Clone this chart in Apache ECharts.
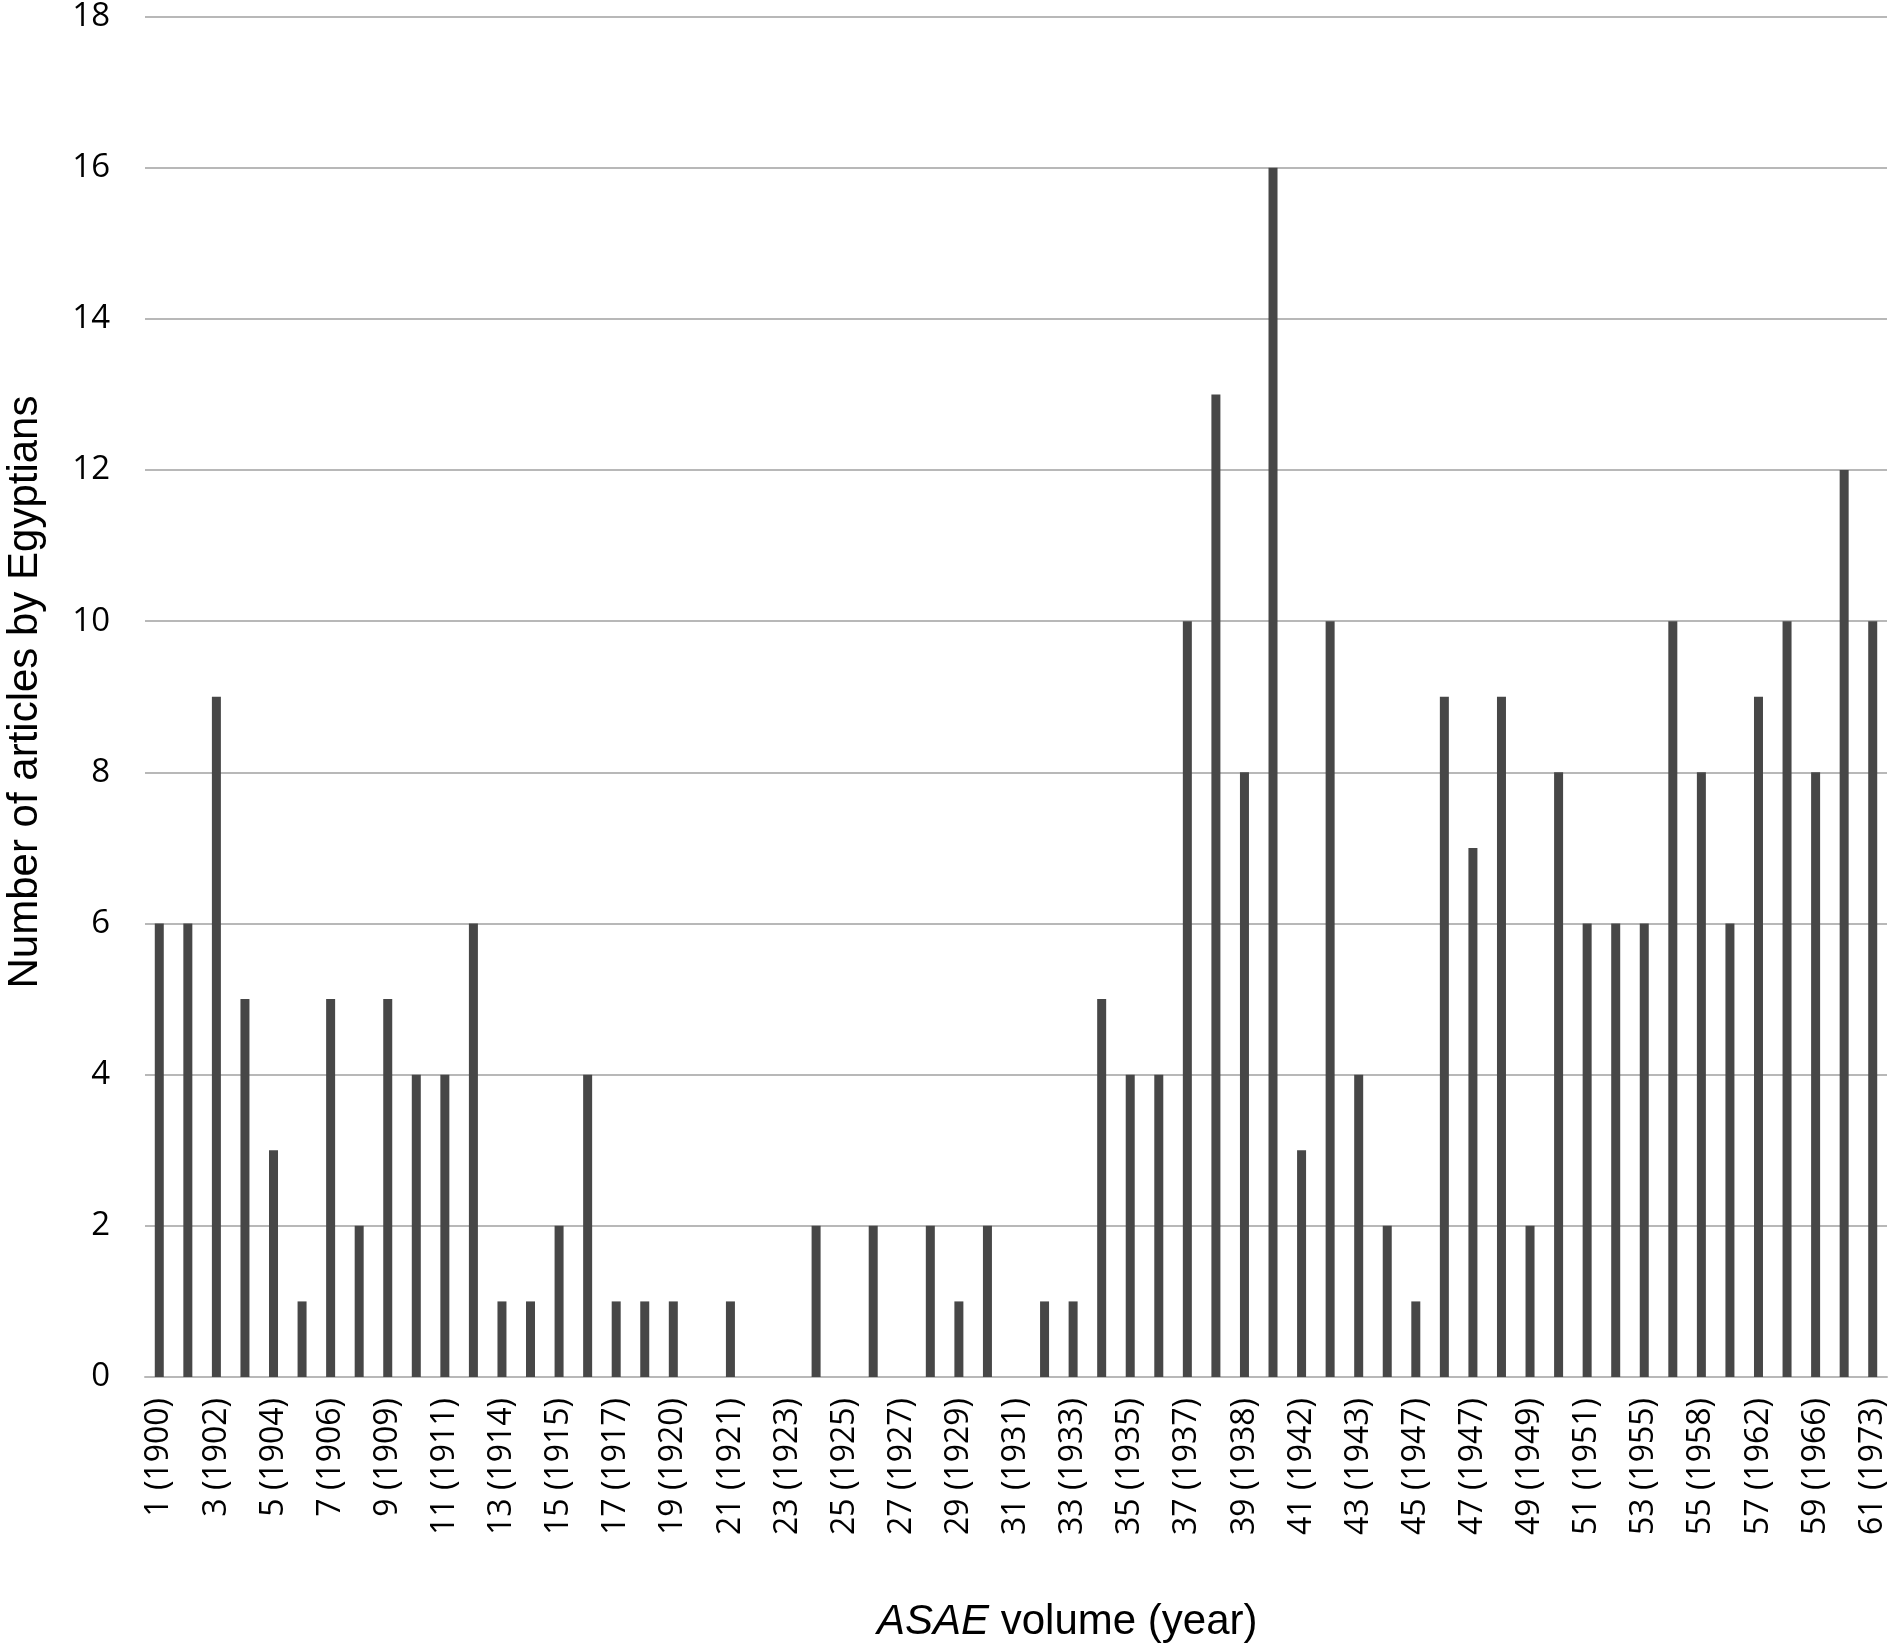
<!DOCTYPE html>
<html>
<head>
<meta charset="utf-8">
<script src="https://cdn.jsdelivr.net/npm/echarts@6/dist/echarts.min.js"></script>
<style>
  html, body { margin: 0; padding: 0; background: #fff; }
  #chart { width: 1894px; height: 1649px; }
</style>
</head>
<body>
<div id="chart"></div>
<script>
const categories = [
  "1 (1900)", "2 (1901)", "3 (1902)", "4 (1903)", "5 (1904)", "6 (1905)", "7 (1906)", "8 (1907)", "9 (1909)", "10 (1910)",
  "11 (1911)", "12 (1912)", "13 (1914)", "14 (1914)", "15 (1915)", "16 (1916)", "17 (1917)", "18 (1918)", "19 (1920)", "20 (1920)",
  "21 (1921)", "22 (1922)", "23 (1923)", "24 (1924)", "25 (1925)", "26 (1926)", "27 (1927)", "28 (1928)", "29 (1929)", "30 (1930)",
  "31 (1931)", "32 (1932)", "33 (1933)", "34 (1934)", "35 (1935)", "36 (1936)", "37 (1937)", "38 (1938)", "39 (1938)", "40 (1940)",
  "41 (1942)", "42 (1943)", "43 (1943)", "44 (1944)", "45 (1947)", "46 (1947)", "47 (1947)", "48 (1948)", "49 (1949)", "50 (1950)",
  "51 (1951)", "52 (1952)", "53 (1955)", "54 (1956)", "55 (1958)", "56 (1959)", "57 (1962)", "58 (1964)", "59 (1966)", "60 (1968)",
  "61 (1973)"
];
const articles = [
  6, 6, 9, 5, 3, 1, 5, 2, 5, 4,
  4, 6, 1, 1, 2, 4, 1, 1, 1, 0,
  1, 0, 0, 2, 0, 2, 0, 2, 1, 2,
  0, 1, 1, 5, 4, 4, 10, 13, 8, 16,
  3, 10, 4, 2, 1, 9, 7, 9, 2, 8,
  6, 6, 6, 10, 8, 6, 9, 10, 8, 12,
  10
];
const yTicks = { min: 0, max: 18, interval: 2 };
const xTitle = "{it|ASAE} volume (year)";
const yTitle = "Number of articles by Egyptians";

const chart = echarts.init(document.getElementById('chart'), null, { renderer: 'canvas' });
chart.setOption({
  animation: false,
  backgroundColor: '#ffffff',
  grid: { left: 145, right: 7, top: 16, bottom: 272, containLabel: false },
  xAxis: {
    type: 'category',
    data: categories,
    boundaryGap: true,
    axisLine: { show: true, lineStyle: { color: '#b8b8b8', width: 2 } },
    axisTick: { show: false },
    axisLabel: {
      interval: 1,
      rotate: 90,
      margin: 21,
      fontFamily: 'Open Sans',
      fontSize: 32,
      color: '#000000'
    },
    splitLine: { show: false }
  },
  yAxis: {
    type: 'value',
    min: yTicks.min,
    max: yTicks.max,
    interval: yTicks.interval,
    axisLine: { show: false },
    axisTick: { show: false },
    axisLabel: {
      margin: 35,
      fontFamily: 'Open Sans',
      fontSize: 33,
      color: '#000000'
    },
    splitLine: { show: true, lineStyle: { color: '#b8b8b8', width: 2 } }
  },
  series: [{
    type: 'bar',
    data: articles,
    barWidth: 9,
    itemStyle: { color: '#474747' }
  }],
  graphic: [
    {
      type: 'text',
      left: 877,
      top: 1601,
      style: {
        text: xTitle,
        fontFamily: 'Liberation Sans',
        fontSize: 42,
        fill: '#000000',
        rich: {
          it: { fontStyle: 'italic', fontFamily: 'Liberation Sans', fontSize: 42, fill: '#000000' }
        }
      }
    },
    {
      type: 'text',
      x: 25,
      y: 692,
      rotation: Math.PI / 2,
      style: {
        text: yTitle,
        fontFamily: 'Liberation Sans',
        fontSize: 42,
        fill: '#000000',
        align: 'center',
        verticalAlign: 'middle'
      }
    }
  ]
});
</script>
</body>
</html>
